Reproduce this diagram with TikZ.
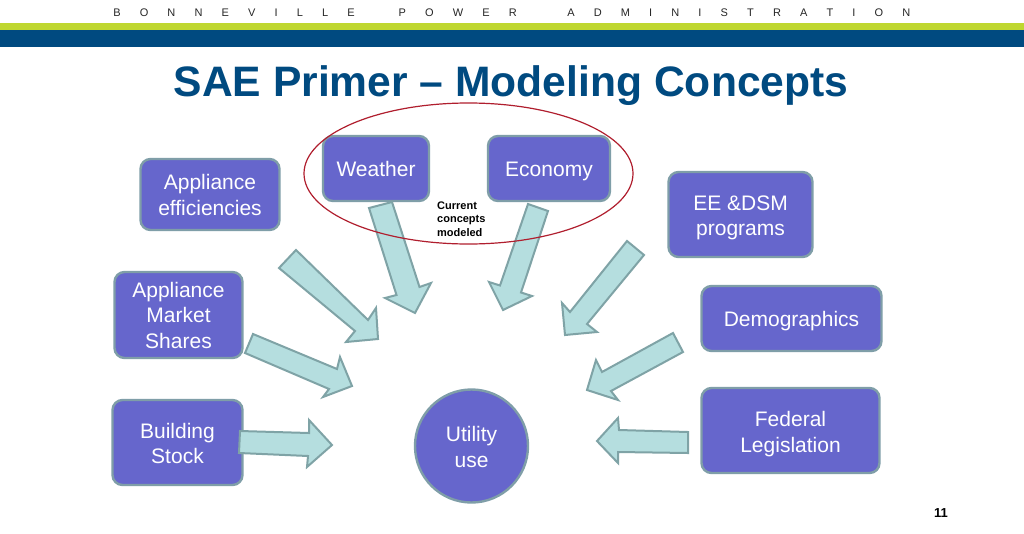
\documentclass[tikz,border=0pt]{standalone}
\usepackage{fontspec}
\setmainfont{Liberation Sans}
\definecolor{boxfill}{HTML}{6666CC}
\definecolor{boxline}{HTML}{7F9EA8}
\definecolor{arrfill}{HTML}{B5DEDF}
\definecolor{arrline}{HTML}{7FA3A6}
\definecolor{navy}{HTML}{004A80}
\definecolor{lime}{HTML}{BFD730}
\definecolor{ringred}{HTML}{B01E2E}
\newcommand{\gp}{\hspace{1.74em}}
\newcommand{\wgp}{\hspace{4em}}
\newcommand{\wgq}{\hspace{4.6em}}
\newcommand{\up}[1]{\rule{0pt}{#1pt}}
\tikzset{x=1pt,y=-1pt,
 topic/.style={draw=boxline,line width=2.4pt,fill=boxfill,rounded corners=10pt,text=white,font=\fontsize{21}{25.5}\selectfont,align=center,minimum width=#1,inner sep=0pt,outer sep=0pt},
 blockarrow/.style={draw=arrline,line width=2pt,fill=arrfill,line join=miter}}
\begin{document}
\begin{tikzpicture}
\useasboundingbox (0,0) rectangle (1024,533);
\fill[white] (0,0) rectangle (1024,533);
\fill[lime] (0,23) rectangle (1024,29.5);
\fill[navy] (0,29.5) rectangle (1024,47);
\node[font=\fontsize{11}{13}\selectfont,text=black!85] (org) at (511.8,12.5) {B\gp O\gp N\gp N\gp E\gp V\gp I\gp L\gp L\gp E\wgp P\gp O\gp W\gp E\gp R\wgq A\gp D\gp M\gp I\gp N\gp I\gp S\gp T\gp R\gp A\gp T\gp I\gp O\gp N};
\node[font=\fontsize{42.6}{46}\bfseries\selectfont,text=navy] (title) at (511,86) {SAE Primer – Modeling Concepts};
\node[topic=106pt,minimum height=65pt] (weather) at (376,168.5) {Weather};
\node[topic=122pt,minimum height=65pt] (economy) at (549,168.5) {\up{21}Economy};
\node[topic=139pt,minimum height=71pt] (eff) at (210,194.5) {\up{16}Appliance\\efficiencies};
\node[topic=144pt,minimum height=85pt] (ee) at (740.5,214.5) {\up{21}EE \&DSM\\programs};
\node[topic=128pt,minimum height=86pt] (market) at (178.5,315) {Appliance\\Market\\Shares};
\node[topic=180pt,minimum height=65pt] (demo) at (791.5,318.5) {\up{21}Demographics};
\node[topic=130pt,minimum height=85pt] (stock) at (177.5,442.5) {\up{17}Building\\Stock};
\node[topic=178pt,minimum height=85pt] (fed) at (790.5,430.5) {\up{22}Federal\\Legislation};
\node[circle,draw=boxline,line width=2.4pt,fill=boxfill,minimum size=113pt,inner sep=0pt,text=white,font=\fontsize{21}{25.5}\selectfont,align=center] (use) at (471.5,446) {\up{17}Utility\\use};
\node[font=\fontsize{11}{13.4}\bfseries\selectfont,align=left,anchor=north west,inner sep=0pt] (note) at (437,201.5) {Current\\concepts\\modeled};
\draw[blockarrow] (369,208) -- (392,202) -- (419.5,287) -- (431,283) -- (415,313) -- (385,298) -- (396.5,295) -- cycle;
\draw[blockarrow] (528,204) -- (548,211) -- (521,292.5) -- (532,296) -- (503,310) -- (489,282) -- (500,285.5) -- cycle;
\draw[blockarrow] (279,268) -- (296,250) -- (368,320) -- (376,308) -- (378,339) -- (346,342) -- (355,331) -- cycle;
\draw[blockarrow] (253,334) -- (245,353) -- (329,389) -- (323,397) -- (352,386) -- (340,357) -- (337,369) -- cycle;
\draw[blockarrow] (240,431) -- (239,453) -- (308,456) -- (307,467) -- (332,445) -- (309,420) -- (309,433) -- cycle;
\draw[blockarrow] (627,241) -- (644,255) -- (587,324) -- (597,332) -- (565,335) -- (562,303) -- (570,312) -- cycle;
\draw[blockarrow] (673,333) -- (683,352) -- (611,391) -- (618,400) -- (587,390) -- (596,360) -- (602,372) -- cycle;
\draw[blockarrow] (688,432) -- (688,453) -- (618,452) -- (618,463) -- (597,441) -- (618,418) -- (619,430) -- cycle;
\draw[ringred,line width=1.2pt] (468.5,173.5) ellipse [x radius=164.5,y radius=70.5];
\node[font=\fontsize{13}{15}\bfseries\selectfont] (page) at (941,513.5) {11};
\end{tikzpicture}
\end{document}
